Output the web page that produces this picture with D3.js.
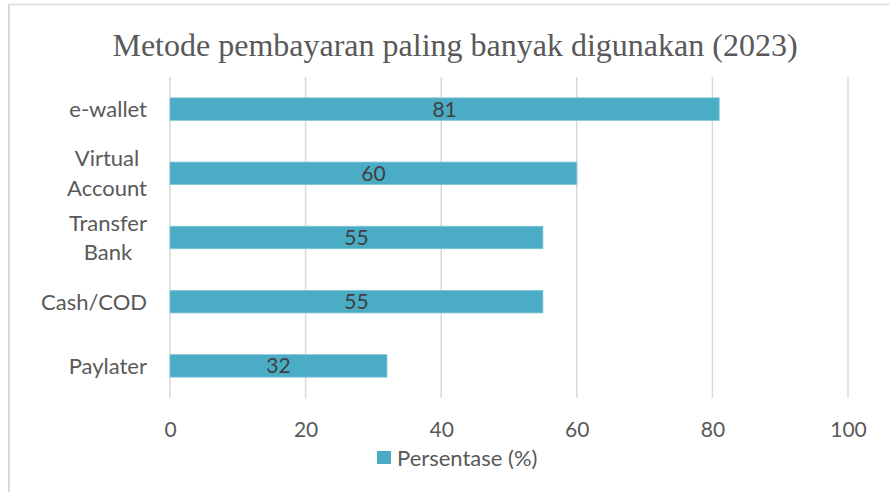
<!DOCTYPE html>
<html>
<head>
<meta charset="utf-8">
<script src="https://cdn.jsdelivr.net/npm/d3@7"></script>
<style>
  body { margin: 0; background: #fff; }
  svg { display: block; }
</style>
</head>
<body>
<div id="chart"></div>
<script>
// data
const categories = ["e-wallet", "Virtual Account", "Transfer Bank", "Cash/COD", "Paylater"];
const labelLines = [["e-wallet"], ["Virtual", "Account"], ["Transfer", "Bank"], ["Cash/COD"], ["Paylater"]];
const values = [81, 60, 55, 55, 32];
const xTicks = [0, 20, 40, 60, 80, 100];
const seriesName = "Persentase (%)";

const width = 889, height = 492;
const margin = {top: 77, right: 41, bottom: 94, left: 170};
const barColor = "#4bacc6";
const textColor = "#595959";
const font = "Lato, 'Open Sans', sans-serif";

const svg = d3.select("#chart").append("svg")
    .attr("width", width)
    .attr("height", height);

// outer frame (top + left only visible)
svg.append("line")
    .attr("x1", 9).attr("x2", width)
    .attr("y1", 4.5).attr("y2", 4.5)
    .attr("stroke", "#d9d9d9").attr("stroke-width", 1.5);
svg.append("line")
    .attr("x1", 9).attr("x2", 9)
    .attr("y1", 4).attr("y2", height)
    .attr("stroke", "#d9d9d9").attr("stroke-width", 2);

// title
svg.append("text")
    .attr("x", 455)
    .attr("y", 56)
    .attr("text-anchor", "middle")
    .attr("font-family", "'Liberation Serif', 'Times New Roman', serif")
    .attr("font-size", 32)
    .attr("fill", textColor)
    .text("Metode pembayaran paling banyak digunakan (2023)");

// scales
const x = d3.scaleLinear()
    .domain([0, 100])
    .range([margin.left, width - margin.right]);

const y = d3.scaleBand()
    .domain(categories)
    .range([margin.top, height - margin.bottom])
    .paddingInner(0.65)
    .paddingOuter(0.325);

// gridlines
svg.append("g")
    .selectAll("line")
    .data(xTicks)
    .join("line")
    .attr("x1", d => x(d)).attr("x2", d => x(d))
    .attr("y1", margin.top).attr("y2", height - margin.bottom)
    .attr("stroke", "#d9d9d9")
    .attr("stroke-width", 1.5);

// x axis
const xAxis = svg.append("g")
    .attr("transform", `translate(0,${height - margin.bottom})`)
    .call(d3.axisBottom(x).tickValues(xTicks).tickSize(0).tickPadding(24));
xAxis.select(".domain").remove();
xAxis.selectAll("text")
    .attr("font-family", font)
    .attr("font-size", 21)
    .attr("fill", textColor);

// bars
svg.append("g")
    .selectAll("rect")
    .data(values)
    .join("rect")
    .attr("x", x(0))
    .attr("y", (d, i) => y(categories[i]))
    .attr("width", d => x(d) - x(0))
    .attr("height", y.bandwidth())
    .attr("fill", barColor)
    .attr("stroke", "#7fc4d6")
    .attr("stroke-width", 0.8);

// value labels
svg.append("g")
    .selectAll("text")
    .data(values)
    .join("text")
    .attr("x", d => (x(0) + x(d)) / 2)
    .attr("y", (d, i) => y(categories[i]) + y.bandwidth() / 2)
    .attr("dy", "0.36em")
    .attr("text-anchor", "middle")
    .attr("font-family", font)
    .attr("font-size", 21)
    .attr("fill", "#404040")
    .text(d => d);

// category labels
const labelRight = 147;
const lineHeight = 29.5;
labelLines.forEach((lines, i) => {
    const cy = y(categories[i]) + y.bandwidth() / 2;
    const g = svg.append("g");
    const texts = g.selectAll("text")
        .data(lines)
        .join("text")
        .attr("y", (d, j) => cy + (j - (lines.length - 1) / 2) * lineHeight)
        .attr("dy", "0.36em")
        .attr("text-anchor", "middle")
        .attr("font-family", font)
        .attr("font-size", 22)
        .attr("fill", textColor)
        .text(d => d);
    let maxW = 0;
    texts.each(function() { maxW = Math.max(maxW, this.getComputedTextLength()); });
    texts.attr("x", labelRight - maxW / 2);
});

// legend
const legend = svg.append("g").attr("transform", "translate(377,451)");
legend.append("rect")
    .attr("width", 14).attr("height", 13)
    .attr("fill", barColor);
legend.append("text")
    .attr("x", 20)
    .attr("y", 7)
    .attr("dy", "0.36em")
    .attr("font-family", font)
    .attr("font-size", 22)
    .attr("fill", textColor)
    .text(seriesName);
</script>
</body>
</html>
